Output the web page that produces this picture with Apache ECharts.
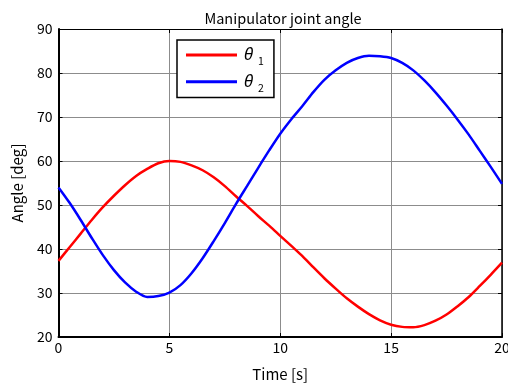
<!DOCTYPE html>
<html>
<head>
<meta charset="utf-8">
<script src="https://cdn.jsdelivr.net/npm/echarts@6/dist/echarts.min.js"></script>
<style>
  html, body { margin: 0; padding: 0; background: #fff; }
  #chart { width: 508px; height: 383px; }
</style>
</head>
<body>
<div id="chart"></div>
<script>
// Sample times [s], every 0.5 s
const times = [0, 0.5, 1, 1.5, 2, 2.5, 3, 3.5, 4, 4.5, 5, 5.5, 6, 6.5, 7, 7.5, 8, 8.5, 9, 9.5,
               10, 10.5, 11, 11.5, 12, 12.5, 13, 13.5, 14, 14.5, 15, 15.5, 16, 16.5, 17, 17.5, 18, 18.5, 19, 19.5, 20];
// Joint angle theta1 [deg]
const theta1 = [37.3, 40.4, 43.5, 46.6, 49.5, 52.1, 54.5, 56.6, 58.2, 59.5, 60.0, 59.8, 59.0, 57.9, 56.3, 54.3, 52.0, 49.8, 47.5, 45.3,
                43.0, 40.7, 38.4, 35.8, 33.3, 31.0, 28.8, 26.9, 25.2, 23.8, 22.8, 22.3, 22.2, 22.7, 23.7, 25.1, 27.0, 29.1, 31.6, 34.2, 36.9];
// Joint angle theta2 [deg]
const theta2 = [54.0, 50.5, 46.6, 42.5, 38.6, 35.2, 32.4, 30.3, 29.1, 29.3, 30.1, 31.8, 34.5, 37.9, 41.8, 45.9, 50.2, 54.3, 58.4, 62.4,
                66.2, 69.5, 72.5, 75.7, 78.5, 80.6, 82.3, 83.4, 83.9, 83.8, 83.4, 82.3, 80.6, 78.3, 75.6, 72.6, 69.4, 66.0, 62.3, 58.6, 54.8];
const seriesNames = ['θ1', 'θ2'];

const FONT = '"Noto Sans CJK JP", "DejaVu Sans", sans-serif';
const pairs = (ys) => times.map((t, i) => [t, ys[i]]);

const chart = echarts.init(document.getElementById('chart'), null, { renderer: 'canvas' });

const gridLine = { show: true, lineStyle: { color: '#8c8c8c', width: 1 } };
const tick = { show: true, inside: true, length: 4, lineStyle: { color: '#000' } };

chart.setOption({
  animation: false,
  backgroundColor: '#fff',
  title: {
    text: 'Manipulator joint angle',
    left: 278, top: 6, textAlign: 'center',
    textStyle: { fontFamily: FONT, fontSize: 14.5, fontWeight: 'normal', color: '#000' }
  },
  grid: { left: 58.5, right: 6, top: 29, bottom: 46, containLabel: false, outerBoundsMode: 'none' },
  legend: {
    data: seriesNames,
    orient: 'vertical',
    left: 177, top: 40,
    padding: [5, 10, 4, 9],
    itemGap: 5,
    itemWidth: 51, itemHeight: 3,
    icon: 'rect',
    borderColor: '#000', borderWidth: 1.5,
    backgroundColor: '#fff',
    formatter: (name) => '{t|θ}{s|' + name.slice(1) + '}',
    textStyle: {
      fontFamily: FONT, color: '#000',
      rich: {
        t: { fontSize: 17, fontStyle: 'italic', fontFamily: '"Noto Sans", "DejaVu Sans", sans-serif', padding: [0, 0, 0, 2], height: 20, lineHeight: 20 },
        s: { fontSize: 10.5, padding: [13, 0, 0, 5], fontFamily: FONT }
      }
    }
  },
  xAxis: [{
    type: 'value', min: 0, max: 20, interval: 5,
    name: 'Time [s]', nameLocation: 'middle', nameGap: 30,
    nameTextStyle: { fontFamily: FONT, fontSize: 15, color: '#000' },
    axisLine: { show: true, onZero: false, lineStyle: { color: '#000', width: 2 } },
    axisTick: tick,
    axisLabel: { fontFamily: FONT, fontSize: 14, color: '#000', margin: 4 },
    splitLine: gridLine
  }, {
    type: 'value', min: 0, max: 20, interval: 5, position: 'top',
    axisLine: { show: true, onZero: false, lineStyle: { color: '#000', width: 1 } },
    axisTick: tick,
    axisLabel: { show: false }, splitLine: { show: false }
  }],
  yAxis: [{
    type: 'value', min: 20, max: 90, interval: 10,
    name: 'Angle [deg]', nameLocation: 'middle', nameGap: 34,
    nameTextStyle: { fontFamily: FONT, fontSize: 15, color: '#000' },
    axisLine: { show: true, onZero: false, lineStyle: { color: '#000', width: 2 } },
    axisTick: tick,
    axisLabel: { fontFamily: FONT, fontSize: 14, color: '#000', margin: 6 },
    splitLine: gridLine
  }, {
    type: 'value', min: 20, max: 90, interval: 10, position: 'right',
    axisLine: { show: true, onZero: false, lineStyle: { color: '#000', width: 1.5 } },
    axisTick: tick,
    axisLabel: { show: false }, splitLine: { show: false }
  }],
  series: [{
    name: seriesNames[0], type: 'line', data: pairs(theta1),
    smooth: 0.3, showSymbol: false, color: '#ff0000',
    lineStyle: { color: '#ff0000', width: 2.5 }
  }, {
    name: seriesNames[1], type: 'line', data: pairs(theta2),
    smooth: 0.3, showSymbol: false, color: '#0000ff',
    lineStyle: { color: '#0000ff', width: 2.5 }
  }]
});
</script>
</body>
</html>
